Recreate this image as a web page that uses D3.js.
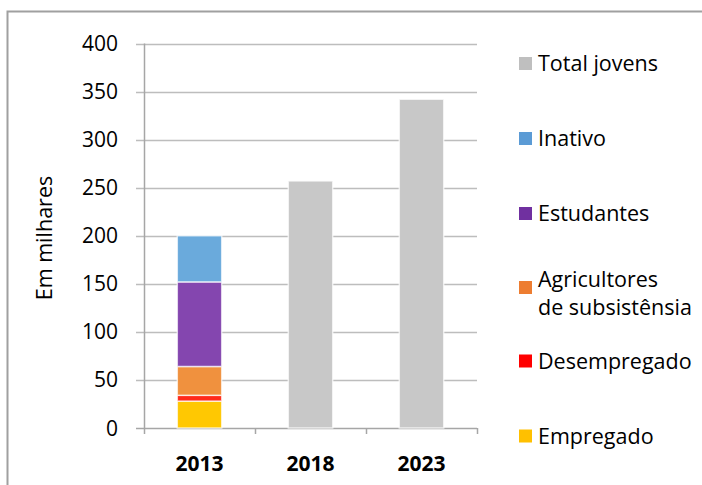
<!DOCTYPE html>
<html>
<head>
<meta charset="utf-8">
<script src="https://cdn.jsdelivr.net/npm/d3@7"></script>
<style>
  body { margin: 0; background: #fff; }
  svg text { font-family: "Open Sans", "DejaVu Sans", sans-serif; fill: #000; }
</style>
</head>
<body>
<svg></svg>
<script>
// data (thousands)
var years = ["2013", "2018", "2023"];
var seriesKeys = ["Empregado", "Desempregado", "Agricultores", "Estudantes", "Inativo", "Total"];
var seriesNames = ["Empregado", "Desempregado", "Agricultores\nde subsistênsia", "Estudantes", "Inativo", "Total jovens"];
var empregado    = [28, 0, 0];
var desempregado = [6, 0, 0];
var agricultores = [30, 0, 0];
var estudantes   = [88, 0, 0];
var inativo      = [48, 0, 0];
var totalJovens  = [0, 257, 342];
var yTicks = [0, 50, 100, 150, 200, 250, 300, 350, 400];

//begin: layout conf.
var svgWidth = 702,
    svgHeight = 485,
    plot = {left: 144, right: 477, top: 43.5, bottom: 428};
var barColors    = ["#ffc802", "#ff2a1a", "#f0913e", "#8446af", "#6aaadc", "#c8c8c8"];
var legendColors = ["#ffc000", "#ff0000", "#ed7d31", "#7030a0", "#5b9bd5", "#bfbfbf"];
//end: layout conf.

var table = years.map(function(y, i) {
  return {year: y, Empregado: empregado[i], Desempregado: desempregado[i],
          Agricultores: agricultores[i], Estudantes: estudantes[i],
          Inativo: inativo[i], Total: totalJovens[i]};
});

var svg = d3.select("svg").attr("width", svgWidth).attr("height", svgHeight);

// outer frame
svg.append("path")
    .attr("d", "M7.5," + svgHeight + "V11.5H" + svgWidth)
    .attr("fill", "none")
    .attr("stroke", "#a0a0a0")
    .attr("stroke-width", 2);

var x = d3.scaleBand().domain(years).range([plot.left, plot.right]).padding(0);
var y = d3.scaleLinear().domain([0, 400]).range([plot.bottom, plot.top]);

// gridlines + y tick labels
var grid = svg.append("g");
grid.selectAll("line")
    .data(yTicks)
    .enter().append("line")
    .attr("x1", plot.left - 8)
    .attr("x2", plot.right)
    .attr("y1", function(d){ return Math.round(y(d)) + 0.5; })
    .attr("y2", function(d){ return Math.round(y(d)) + 0.5; })
    .attr("stroke", function(d){ return d === 0 ? "#a6a6a6" : "#bdbdbd"; })
    .attr("stroke-width", 1.5);

grid.selectAll("text")
    .data(yTicks)
    .enter().append("text")
    .attr("x", 118)
    .attr("y", function(d){ return y(d); })
    .attr("dy", "0.36em")
    .attr("text-anchor", "end")
    .style("font-size", "21px")
    .text(function(d){ return d; });

// y axis line
svg.append("line")
    .attr("x1", plot.left + 0.5).attr("x2", plot.left + 0.5)
    .attr("y1", plot.top).attr("y2", plot.bottom)
    .attr("stroke", "#a6a6a6").attr("stroke-width", 1.5);

// x axis tick marks at category boundaries
var bounds = years.map(function(d){ return x(d); }).concat([plot.right]);
svg.selectAll(".xtick")
    .data(bounds)
    .enter().append("line")
    .attr("x1", function(d){ return Math.round(d) + 0.5; })
    .attr("x2", function(d){ return Math.round(d) + 0.5; })
    .attr("y1", plot.bottom)
    .attr("y2", plot.bottom + 6)
    .attr("stroke", "#a6a6a6").attr("stroke-width", 1.5);

// stacked bars
var stack = d3.stack().keys(seriesKeys)(table);
var barW = x.bandwidth() * 0.4;

svg.append("g").selectAll("g")
    .data(stack)
    .enter().append("g")
    .attr("fill", function(d, i){ return barColors[i]; })
    .selectAll("rect")
    .data(function(d){ return d.filter(function(s){ return s[1] > s[0]; }); })
    .enter().append("rect")
    .attr("x", function(d){ return x(d.data.year) + (x.bandwidth() - barW) / 2; })
    .attr("width", barW)
    .attr("y", function(d){ return y(d[1]); })
    .attr("height", function(d){ return y(d[0]) - y(d[1]); })
    .attr("stroke", "#fff")
    .attr("stroke-opacity", 0.7)
    .attr("stroke-width", 1.5);

// category labels
svg.selectAll(".xlabel")
    .data(years)
    .enter().append("text")
    .attr("x", function(d){ return x(d) + x.bandwidth() / 2; })
    .attr("y", 471)
    .attr("text-anchor", "middle")
    .style("font-size", "21px")
    .style("font-weight", "bold")
    .text(function(d){ return d; });

// axis title
svg.append("text")
    .attr("transform", "translate(" + [52, 238] + ") rotate(-90)")
    .attr("text-anchor", "middle")
    .style("font-size", "21.5px")
    .text("Em milhares");

// legend, top to bottom in reverse stacking order
var legendY = [63.5, 138.5, 213.5, 287.5, 361, 436];
var legendItems = seriesNames.map(function(n, i){ return {name: n, color: legendColors[i]}; }).reverse();

var legend = svg.append("g").selectAll("g")
    .data(legendItems)
    .enter().append("g")
    .attr("transform", function(d, i){ return "translate(" + [519, legendY[i]] + ")"; });

legend.append("rect")
    .attr("x", 0)
    .attr("y", -6.5)
    .attr("width", 13)
    .attr("height", 13)
    .attr("fill", function(d){ return d.color; });

legend.each(function(d){
  var lines = d.name.split("\n");
  var t = d3.select(this).append("text")
      .attr("x", 19)
      .attr("y", lines.length > 1 ? -0.5 : 7.5)
      .style("font-size", "21.5px");
  lines.forEach(function(l, j){
    t.append("tspan").attr("x", 19).attr("dy", j === 0 ? 0 : 28).text(l);
  });
});
</script>
</body>
</html>
